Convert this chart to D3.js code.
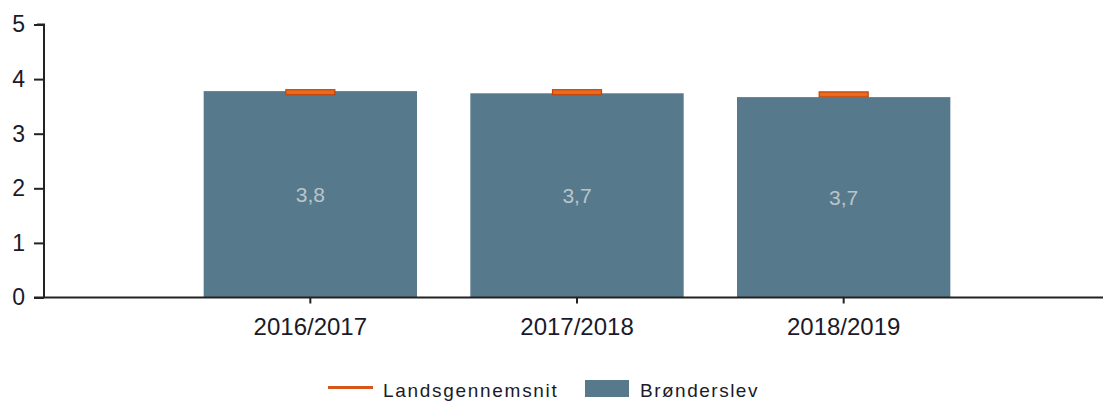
<!DOCTYPE html>
<html>
<head>
<meta charset="utf-8">
<script src="https://cdn.jsdelivr.net/npm/d3@7"></script>
<style>
  body { margin: 0; background: #fff; }
  svg { display: block; font-family: "Liberation Sans", Arial, sans-serif; }
</style>
</head>
<body>
<script>
const years = ["2016/2017", "2017/2018", "2018/2019"];
const kommune = [3.78, 3.74, 3.67];
const landsgennemsnit = [3.76, 3.76, 3.72];
const yTicks = [0, 1, 2, 3, 4, 5];
const seriesNames = ["Landsgennemsnit", "Brønderslev"];

const w = 1103;
const h = 401;
const plotLeft = 44;
const plotTop = 24.5;
const plotBottom = 297.5;

const svg = d3.select("body")
    .append("svg")
    .attr("width", w)
    .attr("height", h);

const xScale = d3.scaleBand()
    .domain(years)
    .range([177, 977])
    .paddingInner(0.2)
    .paddingOuter(0.1);

const yScale = d3.scaleLinear()
    .domain([0, 5])
    .range([plotBottom, plotTop]);

// bars
svg.selectAll("rect.bar")
    .data(kommune)
    .enter()
    .append("rect")
    .attr("class", "bar")
    .attr("x", (d, i) => xScale(years[i]))
    .attr("y", d => yScale(d))
    .attr("width", xScale.bandwidth())
    .attr("height", d => plotBottom - yScale(d))
    .attr("fill", "#56798b");

// value labels
svg.selectAll("text.val")
    .data(kommune)
    .enter()
    .append("text")
    .attr("class", "val")
    .attr("x", (d, i) => xScale(years[i]) + xScale.bandwidth() / 2)
    .attr("y", d => (yScale(d) + plotBottom) / 2 + 8)
    .attr("text-anchor", "middle")
    .attr("font-size", 21)
    .attr("fill", "#b9c5cc")
    .text(d => d.toFixed(1).replace(".", ","));

// average markers
svg.selectAll("rect.avg")
    .data(landsgennemsnit)
    .enter()
    .append("rect")
    .attr("class", "avg")
    .attr("x", (d, i) => xScale(years[i]) + xScale.bandwidth() / 2 - 24.5)
    .attr("y", d => yScale(d) - 2.5)
    .attr("width", 49)
    .attr("height", 5)
    .attr("fill", "#ea6a1e")
    .attr("stroke", "#c2440c")
    .attr("stroke-width", 1.2);

// y axis
const yAxis = d3.axisLeft(yScale)
    .tickValues(yTicks)
    .tickSize(10)
    .tickPadding(9)
    .tickFormat(d3.format("d"));

const gy = svg.append("g")
    .attr("transform", "translate(" + plotLeft + ",0)")
    .call(yAxis);
gy.select(".domain").attr("d", "M-7," + plotTop + "H0V" + plotBottom);
gy.selectAll("line, path").attr("stroke", "#222").attr("stroke-width", 2);
gy.selectAll("text")
    .attr("font-size", 23)
    .attr("fill", "#1a1a2a")
    .attr("font-family", "Liberation Sans, Arial, sans-serif");

// x axis
const xAxis = d3.axisBottom(xScale)
    .tickSize(6)
    .tickPadding(14);

const gx = svg.append("g")
    .attr("transform", "translate(0," + plotBottom + ")")
    .call(xAxis);
gx.select(".domain").attr("d", "M" + (plotLeft - 10) + ",0H" + w);
gx.selectAll("line, path").attr("stroke", "#222").attr("stroke-width", 2);
gx.selectAll("text")
    .attr("font-size", 24)
    .attr("fill", "#1a1a2a")
    .attr("font-family", "Liberation Sans, Arial, sans-serif");

// legend
const legend = svg.append("g");
legend.append("line")
    .attr("x1", 328).attr("x2", 373)
    .attr("y1", 387.5).attr("y2", 387.5)
    .attr("stroke", "#d4561a")
    .attr("stroke-width", 3);
legend.append("text")
    .attr("x", 383).attr("y", 397)
    .attr("font-size", 19)
    .attr("letter-spacing", 1.7)
    .attr("fill", "#1a1a2a")
    .text(seriesNames[0]);
legend.append("rect")
    .attr("x", 585).attr("y", 380)
    .attr("width", 44).attr("height", 17)
    .attr("fill", "#56798b");
legend.append("text")
    .attr("x", 640).attr("y", 397)
    .attr("font-size", 19)
    .attr("letter-spacing", 1.5)
    .attr("fill", "#1a1a2a")
    .text(seriesNames[1]);
</script>
</body>
</html>
